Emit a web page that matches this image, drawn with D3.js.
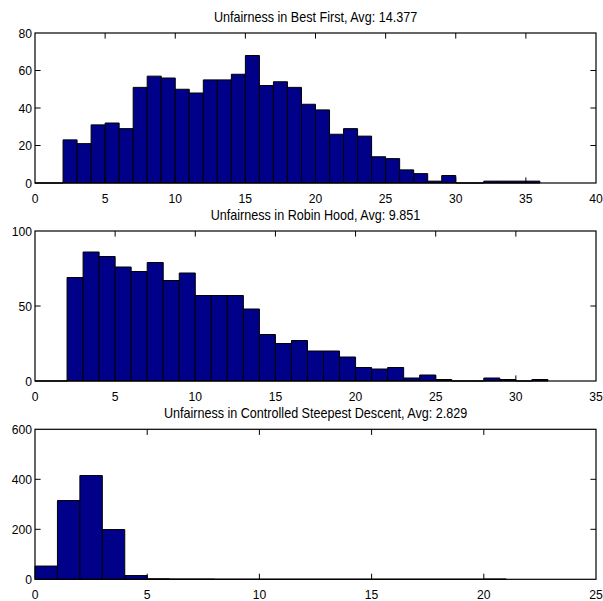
<!DOCTYPE html>
<html>
<head>
<meta charset="utf-8">
<script src="https://cdn.jsdelivr.net/npm/d3@7"></script>
<style>
  body { margin: 0; background: #fff; }
  svg { display: block; }
</style>
</head>
<body>
<script>
// histogram counts, one bin per unit starting at 0
const bestFirstCounts = [0, 0, 23, 21, 31, 32, 29, 51, 57, 56, 50, 48, 55, 55, 58, 68, 52, 54, 51, 42,
  39, 26, 29, 25, 14, 13, 7, 5, 1, 4, 0, 0, 1, 1, 1, 1];
const robinHoodCounts = [0, 0, 69, 86, 83, 76, 73, 79, 67, 72, 57, 57, 57, 48, 31, 25, 27, 20, 20, 16,
  9, 8, 9, 2, 4, 1, 0, 0, 2, 1, 0, 1];
const steepestCounts = [53, 315, 415, 199, 15, 2, 1, 1, 0, 0, 0, 0, 0, 0, 0, 0, 0, 0, 0, 0, 1];

const titles = [
  "Unfairness in Best First, Avg: 14.377",
  "Unfairness in Robin Hood, Avg: 9.851",
  "Unfairness in Controlled Steepest Descent, Avg: 2.829"
];
const xMax = [40, 35, 25];
const yMax = [80, 100, 600];
const xTicks = [[0, 5, 10, 15, 20, 25, 30, 35, 40], [0, 5, 10, 15, 20, 25, 30, 35], [0, 5, 10, 15, 20, 25]];
const yTicks = [[0, 20, 40, 60, 80], [0, 50, 100], [0, 200, 400, 600]];

const width = 603, height = 601;
const left = 35, right = 596, plotH = 150;
const tops = [33, 231, 429.3];
const barFill = "#000088";
const fontFamily = "'Liberation Sans', Arial, Helvetica, sans-serif";
const squeeze = 0.9; // text in the source is a bit narrow

const svg = d3.select("body").append("svg")
  .attr("width", width)
  .attr("height", height)
  .attr("font-family", fontFamily);

const allCounts = [bestFirstCounts, robinHoodCounts, steepestCounts];

function addText(g, x, y, str, size, anchor, dy) {
  g.append("text")
    .attr("transform", `translate(${x},${y}) scale(${squeeze},1)`)
    .attr("text-anchor", anchor)
    .attr("dy", dy || null)
    .attr("font-size", size)
    .attr("fill", "#000")
    .text(str);
}

allCounts.forEach((counts, k) => {
  const top = tops[k];
  const x = d3.scaleLinear().domain([0, xMax[k]]).range([left, right]);
  const y = d3.scaleLinear().domain([0, yMax[k]]).range([top + plotH, top]);
  const g = svg.append("g");

  // bars (paths so that empty bins still show as a line)
  g.append("g")
    .selectAll("path")
    .data(counts)
    .join("path")
    .attr("d", (d, i) => `M${x(i)},${y(0)}V${y(d)}H${x(i + 1)}V${y(0)}Z`)
    .attr("fill", barFill)
    .attr("stroke", "#000")
    .attr("stroke-width", 1);

  // box
  g.append("rect")
    .attr("x", left)
    .attr("y", top)
    .attr("width", right - left)
    .attr("height", plotH)
    .attr("fill", "none")
    .attr("stroke", "#000")
    .attr("stroke-width", 1.2);

  const tickLen = 5.6;
  // x ticks, inside on bottom and top
  const inner = xTicks[k].filter((t) => t > 0 && t < xMax[k]);
  g.append("g").selectAll("line")
    .data(inner)
    .join("line")
    .attr("x1", (d) => x(d)).attr("x2", (d) => x(d))
    .attr("y1", top).attr("y2", top + tickLen)
    .attr("stroke", "#000");
  g.append("g").selectAll("line")
    .data(inner)
    .join("line")
    .attr("x1", (d) => x(d)).attr("x2", (d) => x(d))
    .attr("y1", top + plotH).attr("y2", top + plotH - tickLen)
    .attr("stroke", "#000");

  // y ticks, inside on left and right
  const innerY = yTicks[k].filter((t) => t > 0 && t < yMax[k]);
  g.append("g").selectAll("line")
    .data(innerY)
    .join("line")
    .attr("x1", right).attr("x2", right - tickLen)
    .attr("y1", (d) => y(d)).attr("y2", (d) => y(d))
    .attr("stroke", "#000");
  g.append("g").selectAll("line")
    .data(innerY)
    .join("line")
    .attr("x1", left).attr("x2", left + tickLen)
    .attr("y1", (d) => y(d)).attr("y2", (d) => y(d))
    .attr("stroke", "#000");

  xTicks[k].forEach((t) => addText(g, x(t), top + plotH + 19.5, t, 13.5, "middle"));
  yTicks[k].forEach((t) => addText(g, left - 3, y(t), t, 13.5, "end", "0.35em"));

  addText(g, (left + right) / 2, top - 11.5, titles[k], 14, "middle");
});
</script>
</body>
</html>
